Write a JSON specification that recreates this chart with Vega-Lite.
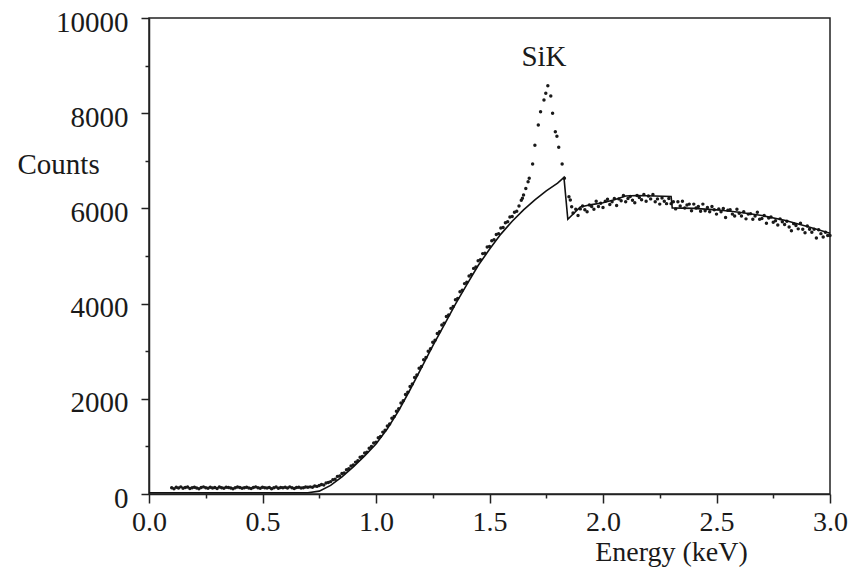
{
  "$schema": "https://vega.github.io/schema/vega-lite/v6.json",
  "width": 681,
  "height": 476,
  "autosize": {"type": "none"},
  "padding": {"left": 149, "top": 18, "right": 21, "bottom": 76},
  "background": "white",
  "config": {"view": {"stroke": "#222", "strokeWidth": 1.5}, "font": "Liberation Serif"},
  "datasets": {
    "spectrum": [
      {"E":0.10,"C":130},{"E":0.11,"C":110},{"E":0.12,"C":140},{"E":0.13,"C":125},{"E":0.14,"C":150},{"E":0.15,"C":120},{"E":0.16,"C":135},{"E":0.17,"C":145},{"E":0.18,"C":115},{"E":0.19,"C":130},
      {"E":0.20,"C":140},{"E":0.21,"C":125},{"E":0.22,"C":110},{"E":0.23,"C":135},{"E":0.24,"C":150},{"E":0.25,"C":130},{"E":0.26,"C":120},{"E":0.27,"C":140},{"E":0.28,"C":125},{"E":0.29,"C":135},
      {"E":0.30,"C":115},{"E":0.31,"C":145},{"E":0.32,"C":130},{"E":0.33,"C":120},{"E":0.34,"C":140},{"E":0.35,"C":135},{"E":0.36,"C":125},{"E":0.37,"C":110},{"E":0.38,"C":130},{"E":0.39,"C":145},
      {"E":0.40,"C":135},{"E":0.41,"C":120},{"E":0.42,"C":130},{"E":0.43,"C":140},{"E":0.44,"C":125},{"E":0.45,"C":115},{"E":0.46,"C":135},{"E":0.47,"C":150},{"E":0.48,"C":130},{"E":0.49,"C":120},
      {"E":0.50,"C":140},{"E":0.51,"C":130},{"E":0.52,"C":125},{"E":0.53,"C":135},{"E":0.54,"C":110},{"E":0.55,"C":130},{"E":0.56,"C":145},{"E":0.57,"C":120},{"E":0.58,"C":135},{"E":0.59,"C":130},
      {"E":0.60,"C":140},{"E":0.61,"C":125},{"E":0.62,"C":150},{"E":0.63,"C":130},{"E":0.64,"C":115},{"E":0.65,"C":135},{"E":0.66,"C":140},{"E":0.67,"C":125},{"E":0.68,"C":130},{"E":0.69,"C":145},
      {"E":0.70,"C":140},{"E":0.71,"C":150},{"E":0.72,"C":140},{"E":0.73,"C":170},{"E":0.74,"C":160},{"E":0.75,"C":180},{"E":0.76,"C":200},{"E":0.77,"C":190},{"E":0.78,"C":230},{"E":0.79,"C":240},
      {"E":0.80,"C":260},{"E":0.81,"C":300},{"E":0.82,"C":310},{"E":0.83,"C":370},{"E":0.84,"C":380},{"E":0.85,"C":430},{"E":0.86,"C":440},{"E":0.87,"C":510},{"E":0.88,"C":530},{"E":0.89,"C":590},
      {"E":0.90,"C":610},{"E":0.91,"C":670},{"E":0.92,"C":700},{"E":0.93,"C":770},{"E":0.94,"C":790},{"E":0.95,"C":860},{"E":0.96,"C":880},{"E":0.97,"C":960},{"E":0.98,"C":1000},{"E":0.99,"C":1070},
      {"E":1.00,"C":1090},{"E":1.01,"C":1180},{"E":1.02,"C":1210},{"E":1.03,"C":1300},{"E":1.04,"C":1340},{"E":1.05,"C":1430},{"E":1.06,"C":1470},{"E":1.07,"C":1590},{"E":1.08,"C":1630},{"E":1.09,"C":1740},
      {"E":1.10,"C":1790},{"E":1.11,"C":1910},{"E":1.12,"C":1960},{"E":1.13,"C":2090},{"E":1.14,"C":2140},{"E":1.15,"C":2260},{"E":1.16,"C":2310},{"E":1.17,"C":2450},{"E":1.18,"C":2500},{"E":1.19,"C":2640},
      {"E":1.20,"C":2680},{"E":1.21,"C":2820},{"E":1.22,"C":2870},{"E":1.23,"C":3000},{"E":1.24,"C":3050},{"E":1.25,"C":3190},{"E":1.26,"C":3230},{"E":1.27,"C":3370},{"E":1.28,"C":3410},{"E":1.29,"C":3550},
      {"E":1.30,"C":3590},{"E":1.31,"C":3730},{"E":1.32,"C":3760},{"E":1.33,"C":3900},{"E":1.34,"C":3940},{"E":1.35,"C":4080},{"E":1.36,"C":4110},{"E":1.37,"C":4250},{"E":1.38,"C":4280},{"E":1.39,"C":4420},
      {"E":1.40,"C":4450},{"E":1.41,"C":4580},{"E":1.42,"C":4610},{"E":1.43,"C":4740},{"E":1.44,"C":4770},{"E":1.45,"C":4900},{"E":1.46,"C":4920},{"E":1.47,"C":5050},{"E":1.48,"C":5060},{"E":1.49,"C":5190},
      {"E":1.50,"C":5200},{"E":1.51,"C":5320},{"E":1.52,"C":5340},{"E":1.53,"C":5450},{"E":1.54,"C":5470},{"E":1.55,"C":5590},{"E":1.56,"C":5600},{"E":1.57,"C":5700},{"E":1.58,"C":5720},{"E":1.59,"C":5820},
      {"E":1.60,"C":5830},{"E":1.61,"C":5920},{"E":1.62,"C":5940},{"E":1.63,"C":6050},{"E":1.64,"C":6170},{"E":1.645,"C":6211},{"E":1.65,"C":6281},{"E":1.66,"C":6420},{"E":1.67,"C":6561},{"E":1.675,"C":6632},
      {"E":1.69,"C":6933},{"E":1.70,"C":7325},{"E":1.715,"C":7752},{"E":1.725,"C":8032},{"E":1.74,"C":8277},{"E":1.748,"C":8418},{"E":1.757,"C":8578},{"E":1.77,"C":8361},{"E":1.778,"C":7997},{"E":1.79,"C":7612},
      {"E":1.797,"C":7514},{"E":1.805,"C":7283},{"E":1.82,"C":6933},{"E":1.83,"C":6632},{"E":1.85,"C":6246},{"E":1.856,"C":6176},{"E":1.862,"C":6036},{"E":1.868,"C":5903},
      {"E":1.88,"C":5980},{"E":1.89,"C":5850},{"E":1.90,"C":5990},{"E":1.91,"C":6050},{"E":1.92,"C":5970},{"E":1.93,"C":5930},{"E":1.94,"C":6070},{"E":1.95,"C":6040},{"E":1.96,"C":5980},{"E":1.97,"C":6150},
      {"E":1.98,"C":6040},{"E":1.99,"C":6110},{"E":2.00,"C":6020},{"E":2.01,"C":6150},{"E":2.02,"C":6190},{"E":2.03,"C":6080},{"E":2.04,"C":6140},{"E":2.05,"C":6210},{"E":2.06,"C":6060},{"E":2.07,"C":6200},
      {"E":2.08,"C":6160},{"E":2.09,"C":6270},{"E":2.10,"C":6140},{"E":2.11,"C":6210},{"E":2.12,"C":6250},{"E":2.13,"C":6170},{"E":2.14,"C":6120},{"E":2.15,"C":6270},{"E":2.16,"C":6230},{"E":2.17,"C":6180},
      {"E":2.18,"C":6290},{"E":2.19,"C":6150},{"E":2.20,"C":6260},{"E":2.21,"C":6200},{"E":2.22,"C":6290},{"E":2.23,"C":6140},{"E":2.24,"C":6200},{"E":2.25,"C":6090},{"E":2.26,"C":6220},{"E":2.27,"C":6150},
      {"E":2.28,"C":6100},{"E":2.29,"C":6210},{"E":2.30,"C":6100},{"E":2.31,"C":6140},{"E":2.32,"C":5990},{"E":2.33,"C":6140},{"E":2.34,"C":6050},{"E":2.35,"C":6150},{"E":2.36,"C":6010},{"E":2.37,"C":6070},
      {"E":2.38,"C":6090},{"E":2.39,"C":5950},{"E":2.40,"C":6090},{"E":2.41,"C":6010},{"E":2.42,"C":6040},{"E":2.43,"C":5940},{"E":2.44,"C":6090},{"E":2.45,"C":5950},{"E":2.46,"C":6020},{"E":2.47,"C":5930},
      {"E":2.48,"C":6040},{"E":2.49,"C":5970},{"E":2.50,"C":5880},{"E":2.51,"C":5990},{"E":2.52,"C":5930},{"E":2.53,"C":6000},{"E":2.54,"C":5810},{"E":2.55,"C":5960},{"E":2.56,"C":5970},{"E":2.57,"C":5880},
      {"E":2.58,"C":5840},{"E":2.59,"C":5980},{"E":2.60,"C":5900},{"E":2.61,"C":5840},{"E":2.62,"C":5930},{"E":2.63,"C":5780},{"E":2.64,"C":5880},{"E":2.65,"C":5890},{"E":2.66,"C":5770},{"E":2.67,"C":5840},
      {"E":2.68,"C":5920},{"E":2.69,"C":5770},{"E":2.70,"C":5790},{"E":2.71,"C":5850},{"E":2.72,"C":5690},{"E":2.73,"C":5800},{"E":2.74,"C":5820},{"E":2.75,"C":5710},{"E":2.76,"C":5740},{"E":2.77,"C":5650},
      {"E":2.78,"C":5780},{"E":2.79,"C":5720},{"E":2.80,"C":5660},{"E":2.81,"C":5730},{"E":2.82,"C":5610},{"E":2.83,"C":5530},{"E":2.84,"C":5680},{"E":2.85,"C":5640},{"E":2.86,"C":5570},{"E":2.87,"C":5690},
      {"E":2.88,"C":5560},{"E":2.89,"C":5490},{"E":2.90,"C":5630},{"E":2.91,"C":5560},{"E":2.92,"C":5500},{"E":2.93,"C":5560},{"E":2.94,"C":5380},{"E":2.95,"C":5550},{"E":2.96,"C":5470},{"E":2.97,"C":5400},
      {"E":2.98,"C":5500},{"E":2.99,"C":5430},{"E":3.00,"C":5430}
    ],
    "fit": [
      {"E":0.0,"C":25},{"E":0.70,"C":25},{"E":0.75,"C":60},{"E":0.80,"C":180},{"E":0.85,"C":360},{"E":0.90,"C":570},{"E":0.95,"C":800},{"E":1.00,"C":1050},
      {"E":1.05,"C":1370},{"E":1.10,"C":1750},{"E":1.15,"C":2190},{"E":1.20,"C":2650},{"E":1.25,"C":3110},{"E":1.30,"C":3550},{"E":1.35,"C":3990},{"E":1.40,"C":4400},
      {"E":1.45,"C":4800},{"E":1.50,"C":5140},{"E":1.55,"C":5460},{"E":1.60,"C":5730},{"E":1.65,"C":5970},{"E":1.70,"C":6180},{"E":1.75,"C":6370},{"E":1.80,"C":6530},
      {"E":1.828,"C":6650},{"E":1.845,"C":5770},{"E":1.90,"C":6030},{"E":1.95,"C":6080},{"E":2.00,"C":6120},{"E":2.05,"C":6180},{"E":2.10,"C":6260},{"E":2.15,"C":6270},
      {"E":2.30,"C":6250},{"E":2.305,"C":6010},{"E":2.40,"C":6000},{"E":2.50,"C":5970},{"E":2.60,"C":5920},{"E":2.70,"C":5850},{"E":2.80,"C":5750},{"E":2.90,"C":5620},{"E":3.00,"C":5480}
    ],
    "label": [{"E":1.74,"C":9000,"T":"SiK"}]
  },
  "encoding": {
    "x": {
      "field": "E", "type": "quantitative",
      "scale": {"domain": [0, 3], "nice": false, "zero": false},
      "axis": {
        "title": "Energy (keV)",
        "values": [0,0.25,0.5,0.75,1,1.25,1.5,1.75,2,2.25,2.5,2.75,3],
        "labelExpr": "round(datum.value*4)%2===0 ? format(datum.value,'.1f') : ''",
        "tickSize": {"condition": {"test": "round(datum.value*4)%2===0", "value": 9}, "value": 4},
        "tickColor": "#222", "tickWidth": 1.5,
        "domainColor": "#222", "domainWidth": 1.5,
        "labelFont": "Liberation Serif", "labelFontSize": 28, "labelColor": "#1a1a1a",
        "labelPadding": 5, "labelFlush": false, "labelOverlap": false, "grid": false,
        "titleFont": "Liberation Serif", "titleFontSize": 28, "titleFontWeight": "normal", "titleColor": "#1a1a1a",
        "titleX": 522, "titleY": 66, "titleAlign": "center", "titleBaseline": "alphabetic"
      }
    },
    "y": {
      "field": "C", "type": "quantitative",
      "scale": {"domain": [0, 10000], "nice": false},
      "axis": {
        "title": "Counts",
        "values": [0,1000,2000,3000,4000,5000,6000,7000,8000,9000,10000],
        "format": "d",
        "labelExpr": "datum.value%2000===0 ? datum.label : ''",
        "tickSize": {"condition": {"test": "datum.value%2000===0", "value": 8}, "value": 4},
        "tickColor": "#222", "tickWidth": 1.5,
        "domainColor": "#222", "domainWidth": 1.5,
        "labelFont": "Liberation Serif", "labelFontSize": 29, "labelColor": "#1a1a1a",
        "labelPadding": 13, "labelOffset": 4, "labelFlush": false, "labelOverlap": false, "grid": false,
        "titleFont": "Liberation Serif", "titleFontSize": 29, "titleFontWeight": "normal", "titleColor": "#1a1a1a",
        "titleAngle": 0, "titleX": -132, "titleY": 155, "titleAlign": "left", "titleBaseline": "alphabetic"
      }
    }
  },
  "layer": [
    {"data": {"name": "spectrum"}, "mark": {"type": "point", "filled": true, "size": 12, "color": "#1a1a1a", "opacity": 1}},
    {"data": {"name": "fit"}, "mark": {"type": "line", "color": "#111", "strokeWidth": 1.6}},
    {"data": {"name": "label"}, "mark": {"type": "text", "font": "Liberation Serif", "fontSize": 29, "baseline": "alphabetic", "align": "center", "color": "#1a1a1a"}, "encoding": {"text": {"field": "T"}}}
  ]
}
